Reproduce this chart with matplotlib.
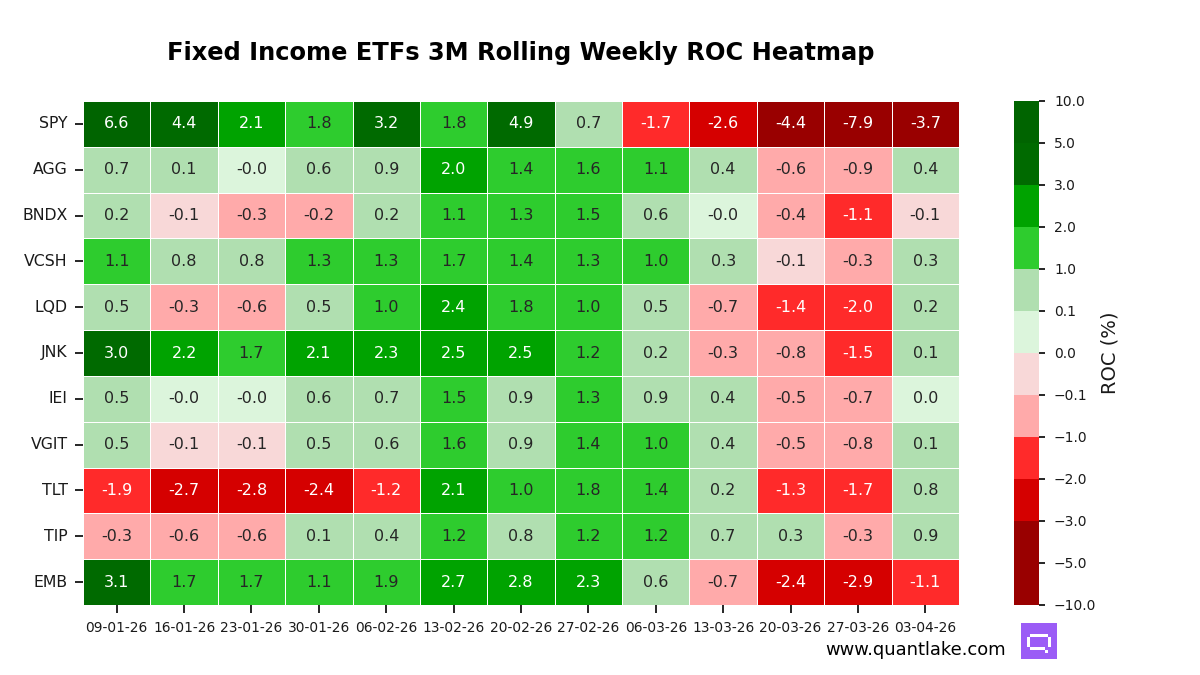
import numpy as np
import matplotlib
matplotlib.use("Agg")
import matplotlib.pyplot as plt
from matplotlib.colors import ListedColormap, BoundaryNorm
from matplotlib.ticker import FuncFormatter
import seaborn as sns

dates = ["09-01-26", "16-01-26", "23-01-26", "30-01-26", "06-02-26", "13-02-26",
         "20-02-26", "27-02-26", "06-03-26", "13-03-26", "20-03-26", "27-03-26", "03-04-26"]
tickers = ["SPY", "AGG", "BNDX", "VCSH", "LQD", "JNK", "IEI", "VGIT", "TLT", "TIP", "EMB"]

spy  = [6.6, 4.4, 2.1, 1.8, 3.2, 1.8, 4.9, 0.7, -1.7, -2.6, -4.4, -7.9, -3.7]
agg  = [0.7, 0.1, -0.0, 0.6, 0.9, 2.0, 1.4, 1.6, 1.1, 0.4, -0.6, -0.9, 0.4]
bndx = [0.2, -0.1, -0.3, -0.2, 0.2, 1.1, 1.3, 1.5, 0.6, -0.0, -0.4, -1.1, -0.1]
vcsh = [1.1, 0.8, 0.8, 1.3, 1.3, 1.7, 1.4, 1.3, 1.0, 0.3, -0.1, -0.3, 0.3]
lqd  = [0.5, -0.3, -0.6, 0.5, 1.0, 2.4, 1.8, 1.0, 0.5, -0.7, -1.4, -2.0, 0.2]
jnk  = [3.0, 2.2, 1.7, 2.1, 2.3, 2.5, 2.5, 1.2, 0.2, -0.3, -0.8, -1.5, 0.1]
iei  = [0.5, -0.0, -0.0, 0.6, 0.7, 1.5, 0.9, 1.3, 0.9, 0.4, -0.5, -0.7, 0.0]
vgit = [0.5, -0.1, -0.1, 0.5, 0.6, 1.6, 0.9, 1.4, 1.0, 0.4, -0.5, -0.8, 0.1]
tlt  = [-1.9, -2.7, -2.8, -2.4, -1.2, 2.1, 1.0, 1.8, 1.4, 0.2, -1.3, -1.7, 0.8]
tip  = [-0.3, -0.6, -0.6, 0.1, 0.4, 1.2, 0.8, 1.2, 1.2, 0.7, 0.3, -0.3, 0.9]
emb  = [3.1, 1.7, 1.7, 1.1, 1.9, 2.7, 2.8, 2.3, 0.6, -0.7, -2.4, -2.9, -1.1]

bounds = [-10, -5, -3, -2, -1, -0.1, 0, 0.1, 1, 2, 3, 5, 10]
colors = ["#990000", "#990000", "#d50000", "#ff2a2a", "#ffaaaa", "#f8d8d8",
          "#dcf5dc", "#b0dfb0", "#2ecc2e", "#00a300", "#006a00", "#006400"]

data = np.array([spy, agg, bndx, vcsh, lqd, jnk, iei, vgit, tlt, tip, emb])

cmap = ListedColormap(colors)
norm = BoundaryNorm(bounds, cmap.N)

fig = plt.figure(figsize=(12, 6.75), dpi=100)
ax = fig.add_axes([83/1200, 1-605/675, 876/1200, 504/675])
cax = fig.add_axes([1014/1200, 1-605/675, 25/1200, 504/675])

sns.heatmap(data, ax=ax, cbar_ax=cax, cmap=cmap, norm=norm, annot=True, fmt=".1f",
            annot_kws={"fontsize": 11.5}, linewidths=0.5, linecolor="white",
            xticklabels=dates, yticklabels=tickers,
            cbar_kws={"ticks": bounds,
                      "format": FuncFormatter(lambda v, p: f"{v:.1f}".replace("-", "\u2212"))})

tick_kw = dict(length=6, width=1.4, color="#262626", labelcolor="#1a1a1a")
ax.tick_params(axis="x", labelsize=9.9, rotation=0, pad=5.5, **tick_kw)
ax.tick_params(axis="y", labelsize=11.3, rotation=0, pad=5, **tick_kw)
cax.tick_params(labelsize=10, length=4.5, width=1.4, pad=6.3, color="#262626", labelcolor="#1a1a1a")
cax.set_ylabel("ROC (%)", fontsize=14, color="#1a1a1a", labelpad=3)

fig.text(521/1200, 1-53/675, "Fixed Income ETFs 3M Rolling Weekly ROC Heatmap",
         ha="center", va="center", fontsize=17.4, fontweight="bold")
fig.text(916/1200, 1-650/675, "www.quantlake.com", ha="center", va="center", fontsize=12.9)

# logo
lax = fig.add_axes([1021/1200, 1-659/675, 36/1200, 36/675])
mask = np.zeros((12, 12))
mask[4, 3:9] = 1
mask[5:8, 2] = 1
mask[5:8, 9] = 1
mask[8, 3:8] = 1
mask[9, 8] = 1
img = np.zeros((12, 12, 3))
purple = np.array([0x9b, 0x5c, 0xf6]) / 255
img[:] = purple
img[mask == 1] = 1.0
lax.imshow(img, interpolation="nearest", aspect="auto")
lax.axis("off")

fig.savefig("out.png", dpi=100)
